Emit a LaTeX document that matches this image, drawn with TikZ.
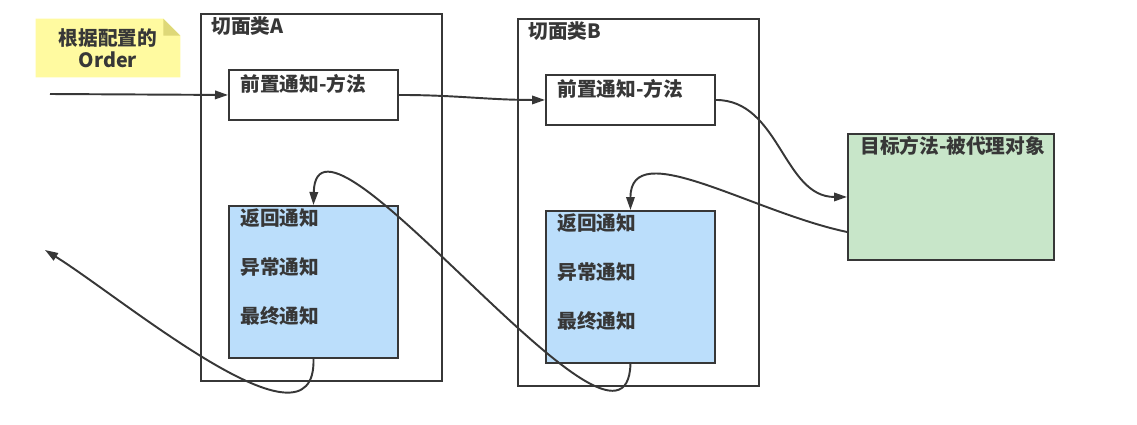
\documentclass[tikz,border=0pt]{standalone}
\usepackage{fontspec}
\setmainfont{Noto Sans CJK SC}
\usetikzlibrary{arrows.meta,positioning,calc,backgrounds}
\definecolor{ink}{RGB}{55,55,55}
\definecolor{note}{RGB}{255,250,160}
\definecolor{notefold}{RGB}{222,216,120}
\definecolor{sky}{RGB}{187,222,251}
\definecolor{mint}{RGB}{200,230,201}
\tikzset{
  >={Triangle[length=2.6mm,width=1.7mm]},
  frame/.style={draw=ink,line width=1.1pt,fill=#1,anchor=north west,inner sep=0pt},
  frame/.default=white,
  tag/.style={font=\bfseries\fontsize{11.2}{12.5}\selectfont,text=ink,anchor=west,inner sep=0pt},
  flow/.style={->,draw=ink,line width=1.1pt},
}
\begin{document}
\begin{tikzpicture}
  \useasboundingbox (0,0) rectangle (22.74,-8.48);
  % note with folded corner
  \node[tag,anchor=center,align=center,minimum width=2.88cm,minimum height=1.16cm] (order) at (2.16,-0.96) {根据配置的\\Order};
  \begin{scope}[on background layer]
    \fill[note] (order.north west) -- ($(order.north east)+(-0.34,0)$) -- ($(order.north east)+(0,-0.34)$) -- (order.south east) -- (order.south west) -- cycle;
    \fill[notefold] ($(order.north east)+(-0.34,0)$) -- ($(order.north east)+(-0.34,-0.34)$) -- ($(order.north east)+(0,-0.34)$) -- cycle;
  \end{scope}
  % aspect classes
  \foreach \n/\x/\y in {A/4.00/-0.26,B/10.34/-0.36}
  {
    \node[frame,minimum width=4.82cm,minimum height=7.34cm] (asp\n) at (\x,\y) {};
    \node[tag] at ($(asp\n.north west)+(0.22,-0.26)$) {切面类\n};
    \node[frame,minimum width=3.38cm,minimum height=1.0cm] (pre\n) at (\x+0.56,\y-1.12) {};
    \node[tag] at ($(pre\n.north west)+(0.24,-0.30)$) {前置通知-方法};
    \node[frame=sky,minimum width=3.38cm,minimum height=3.04cm] (post\n) at (\x+0.56,\y-3.84) {};
    \foreach \t [count=\i] in {返回通知,异常通知,最终通知}
      \node[tag] at ($(post\n.north west)+(0.24,0.72-\i*0.98)$) {\t};
  }
  % target
  \node[frame=mint,minimum width=4.12cm,minimum height=2.52cm] (target) at (16.94,-2.66) {};
  \node[tag] at ($(target.north west)+(0.26,-0.26)$) {目标方法-被代理对象};
  % call chain
  \coordinate (start) at (1.0,-1.88);
  \coordinate (exit) at (0.9,-5.0);
  \draw[flow] (start) -- (preA.west);
  \draw[flow] (preA.east) to[out=0,in=180] (preB.west);
  \draw[flow] (preB.east) to[out=0,in=180] (target.west);
  \draw[flow] ([yshift=-0.7cm]target.west) .. controls +(-1.9,0.4) and +(0,1.5) .. (postB.north);
  \draw[flow] (postB.south) .. controls +(-0.08,-2.7) and +(0.06,2.6) .. (postA.north);
  \draw[flow] (postA.south) .. controls +(0.06,-2.06) and +(1.6,-1.0) .. (exit);
\end{tikzpicture}
\end{document}
